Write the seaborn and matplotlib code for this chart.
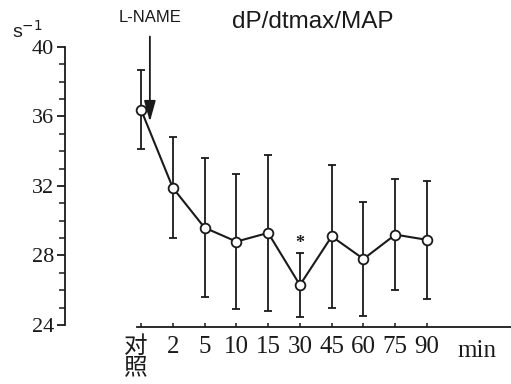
import numpy as np
import pandas as pd
import matplotlib
matplotlib.use('Agg')
import matplotlib.pyplot as plt
import matplotlib.transforms as mtransforms
import seaborn as sns

categories = ['对\n照', '2', '5', '10', '15', '30', '45', '60', '75', '90']
means = [36.4, 31.9, 29.6, 28.8, 29.3, 26.3, 29.1, 27.8, 29.2, 28.9]
sds = [2.3, 2.9, 4.0, 3.9, 4.5, 1.85, 4.1, 3.3, 3.2, 3.4]
yticks = [24, 28, 32, 36, 40]

sns.set_style('ticks')
plt.rcParams['font.family'] = ['Liberation Serif', 'Noto Sans CJK SC']
ink = '#1a1a1a'

W, H = 511, 384
fig = plt.figure(figsize=(W / 100, H / 100), dpi=100)
ax = fig.add_axes([65 / W, 0.131, 446 / W, 0.923 - 0.131])

pos = np.arange(len(categories))
df = pd.DataFrame({'pos': pos, 'mean': means, 'sd': sds})

ax.errorbar(df['pos'], df['mean'], yerr=df['sd'], fmt='none', ecolor=ink,
            elinewidth=1.3, capsize=3, capthick=1.3, zorder=1)
sns.lineplot(data=df, x='pos', y='mean', ax=ax, color=ink, linewidth=1.5,
             marker='o', markersize=7, markerfacecolor='white',
             markeredgecolor=ink, markeredgewidth=1.3, zorder=3)

ax.set_xlim(-2.39, 11.64)
ax.set_ylim(23.5, 41)
ax.set_xlabel('')
ax.set_ylabel('')

for s in ['top', 'right']:
    ax.spines[s].set_visible(False)
ax.spines['left'].set_bounds(24, 40)
ax.spines['bottom'].set_position(('data', 23.9))
ax.spines['bottom'].set_bounds(-0.13, 11.64)
for s in ['left', 'bottom']:
    ax.spines[s].set_linewidth(1.3)
    ax.spines[s].set_color(ink)

ax.set_yticks(yticks)
ax.set_yticks(np.arange(24, 41, 1), minor=True)
ax.tick_params(axis='y', which='major', length=6, width=1.3, color=ink,
               labelsize=16, pad=2, labelcolor=ink)
ax.tick_params(axis='y', which='minor', length=4, width=1.1, color=ink)

ax.set_xticks(pos)
ax.set_xticklabels(categories)
ax.tick_params(axis='x', direction='in', length=3, width=1.1, color=ink,
               labelsize=18, pad=7, labelcolor=ink)
for lab in ax.get_xticklabels():
    lab.set_verticalalignment('top')
first = ax.get_xticklabels()[0]
first.set_fontsize(17)
first.set_linespacing(1.0)
first.set_transform(first.get_transform() +
                    mtransforms.ScaledTranslation(-5 / 100, 0, fig.dpi_scale_trans))

# asterisk on 30 min
ax.text(pos[5], means[5] + sds[5] + 0.05, '*', ha='center', va='bottom',
        fontsize=13, fontweight='bold', color=ink)

# L-NAME arrow
ax.annotate('', xy=(0.28, 35.7), xytext=(0.28, 40.6),
            arrowprops=dict(arrowstyle='-|>,head_length=0.9,head_width=0.25',
                            color=ink, lw=1.3, mutation_scale=14,
                            shrinkA=0, shrinkB=0),
            annotation_clip=False)

fig.text(150 / W, 1 - 18 / H, 'L-NAME', ha='center', va='center',
         fontsize=12, family='Liberation Sans', color=ink)
fig.text(232 / W, 1 - 22 / H, 'dP/dtmax/MAP', ha='left', va='center',
         fontsize=17.5, family='Liberation Sans', color=ink)
fig.text(12 / W, 1 - 31 / H, 's$^{-1}$', ha='left', va='center',
         fontsize=14, family='Liberation Sans', color=ink)
fig.text(457 / W, 1 - 351 / H, 'min', ha='left', va='center',
         fontsize=18, color=ink)

fig.savefig('out.png', dpi=100)
